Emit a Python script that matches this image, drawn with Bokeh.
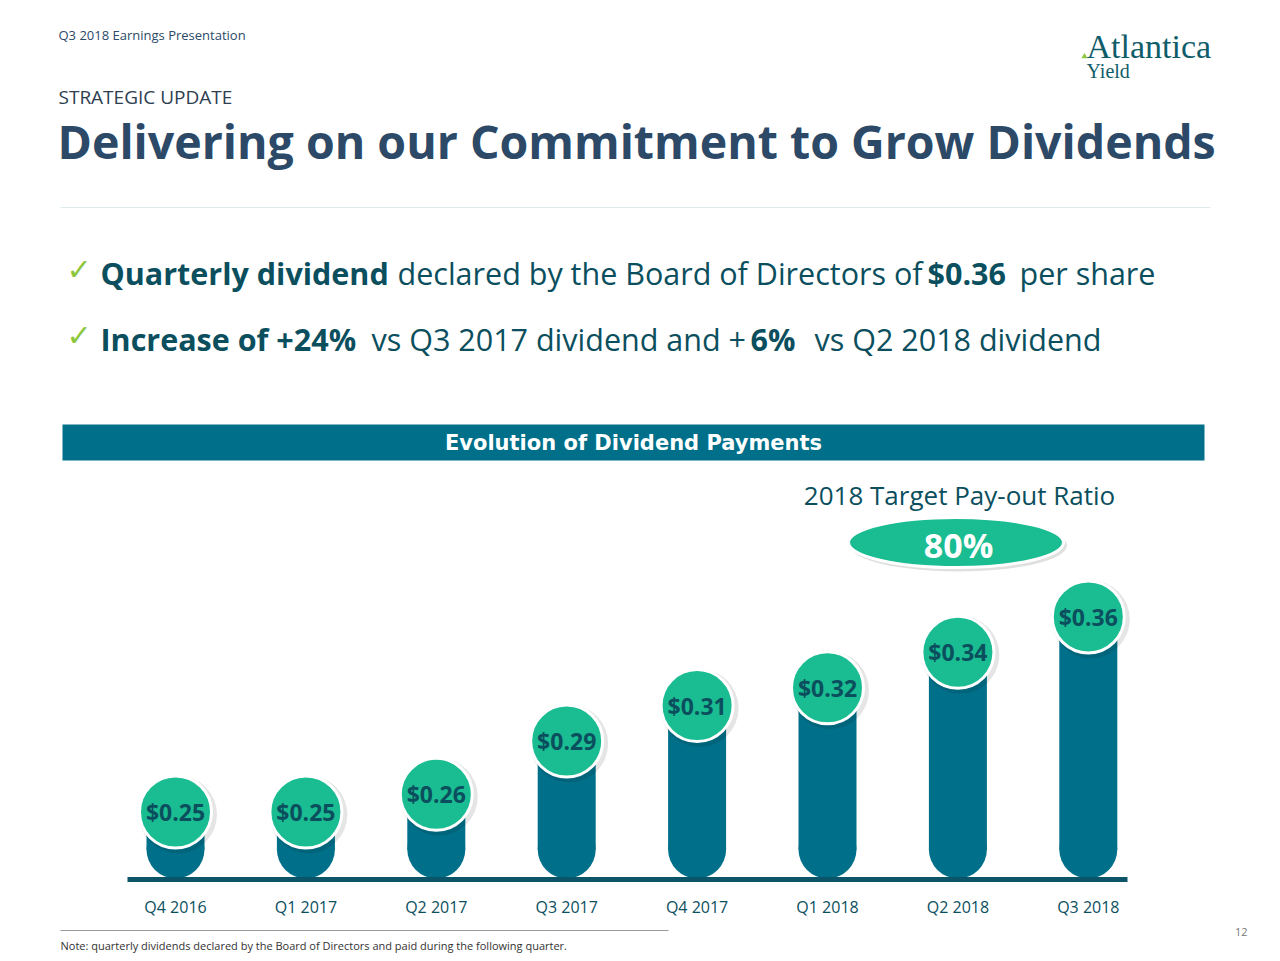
from bokeh.plotting import figure
from bokeh.models import Range1d, ColumnDataSource
from bokeh.core.properties import value
from bokeh.embed import file_html
from bokeh.resources import INLINE

# ---------------- data ----------------
quarters = ["Q4 2016", "Q1 2017", "Q2 2017", "Q3 2017", "Q4 2017", "Q1 2018", "Q2 2018", "Q3 2018"]
dividends = [0.25, 0.25, 0.26, 0.29, 0.31, 0.32, 0.34, 0.36]
dividend_labels = ["$0.25", "$0.25", "$0.26", "$0.29", "$0.31", "$0.32", "$0.34", "$0.36"]
payout_title = "2018 Target Pay-out Ratio"
payout_ratio = "80%"

# ---------------- style ----------------
W, H = 1276, 958
FONT = "Open Sans"
TITLE_C = "#2C4A68"
TEAL_D = "#0B4F5E"
BAR_C = "#00708A"
GREEN = "#1ABC91"
CHECK_C = "#8DC63F"

# scale: first category centre & spacing (window px), value->pixel mapping
X0, DX = 175.0, 130.4
V0, Y0, K = 0.2975, 727.25, 1774.0


def px(X):
    return (X - X0) / DX


def py(Y):
    return V0 - (Y - Y0) / K


p = figure(width=W, height=H, x_range=Range1d(px(0), px(W)), y_range=Range1d(py(H), py(0)),
           output_backend="svg", toolbar_location=None, x_axis_location=None, y_axis_location=None,
           min_border=0, outline_line_color=None)
p.grid.visible = False
p.background_fill_color = "white"
p.border_fill_color = "white"


def txt(X, Y, s, size, color, bold=False, align="left", font=FONT):
    p.text(x=[px(X)], y=[py(Y)], text=[s], text_font=value(font), text_font_size=f"{size}px",
           text_color=color, text_font_style="bold" if bold else "normal",
           text_align=align, text_baseline="middle")


# ---------------- header ----------------
txt(58, 34, "Q3 2018 Earnings Presentation", 13, TITLE_C)
txt(58, 96, "STRATEGIC UPDATE", 19, "#2D3E50")
txt(57, 140, "Delivering on our Commitment to Grow Dividends", 46.5, TITLE_C, bold=True)
p.line([px(60), px(1210)], [py(207), py(207)], line_color="#DCEBEC", line_width=1)

# logo
txt(1086, 46, "Atlantica", 34, "#0F5D6A", font="Liberation Serif")
txt(1086, 70, "Yield", 20, "#0F5D6A", font="Liberation Serif")
p.scatter([px(1084)], [py(56)], marker="triangle", size=6, fill_color=CHECK_C, line_color=None)

# ---------------- bullets ----------------
BS = 30.5
txt(66, 269, "\u2713", 30, CHECK_C, font="DejaVu Sans")
txt(100, 272, "Quarterly dividend", BS, TEAL_D, bold=True)
txt(397, 272, "declared by the Board of Directors of", BS, TEAL_D)
txt(927, 272, "$0.36", BS, TEAL_D, bold=True)
txt(1019, 272, "per share", BS, TEAL_D)

txt(66, 335, "\u2713", 30, CHECK_C, font="DejaVu Sans")
txt(100, 338, "Increase of +24%", BS, TEAL_D, bold=True)
txt(371, 338, "vs Q3 2017 dividend and +", BS, TEAL_D)
txt(750, 338, "6%", BS, TEAL_D, bold=True)
txt(814, 338, "vs Q2 2018 dividend", BS, TEAL_D)

# ---------------- band ----------------
p.quad(left=[px(62)], right=[px(1204)], top=[py(424)], bottom=[py(460)], fill_color=BAR_C, line_color=None)
txt(633, 442, "Evolution of Dividend Payments", 21, "white", bold=True, align="center", font="DejaVu Sans")

# ---------------- payout ratio ----------------
txt(959, 494, payout_title, 26, TEAL_D, align="center")
p.ellipse(x=[px(958)], y=[py(545)], width=[217 / DX], height=[52 / K], fill_color="black",
          fill_alpha=0.12, line_color=None)
p.ellipse(x=[px(955.5)], y=[py(542)], width=[215 / DX], height=[50 / K], fill_color=GREEN,
          line_color="white", line_width=3)
txt(958, 544, payout_ratio, 34, "white", bold=True, align="center")

# ---------------- bars ----------------
idx = list(range(len(quarters)))
n = len(quarters)
base_c = py(878 - 29)
src = ColumnDataSource(dict(x=idx, v=dividends, lab=dividend_labels, q=quarters,
                            base=[base_c] * n,
                            sx=[i + 2.5 / DX for i in idx], sv=[v - 2.5 / K for v in dividends]))

p.vbar(x="x", top="v", bottom="base", width=58 / DX, source=src, fill_color=BAR_C, line_color=None)
p.scatter(x="x", y="base", size=58, marker="circle", source=src, fill_color=BAR_C, line_color=None)
p.line([px(127), px(1127)], [py(879), py(879)], line_color="#0C5568", line_width=5)

p.scatter(x="sx", y="sv", size=78, marker="circle", source=src, fill_color="black", fill_alpha=0.10,
          line_color=None)
p.scatter(x="x", y="v", size=72, marker="circle", source=src, fill_color=GREEN, line_color="white",
          line_width=3)
p.text(x="x", y="v", text="lab", source=src, text_font=value(FONT), text_font_size="23px",
       text_font_style="bold", text_color=TEAL_D, text_align="center", text_baseline="middle")

p.text(x="x", y=py(906), text="q", source=src, text_font=value(FONT), text_font_size="16px",
       text_color=TEAL_D, text_align="center", text_baseline="middle")

# ---------------- footer ----------------
p.line([px(60), px(668)], [py(930), py(930)], line_color="#9A9A9A", line_width=1)
txt(60, 945, "Note: quarterly dividends declared by the Board of Directors and paid during the following quarter.",
    11, "#333333")
txt(1247, 931, "12", 11, "#777777", align="right")

open("out.html", "w").write(file_html(p, INLINE))
